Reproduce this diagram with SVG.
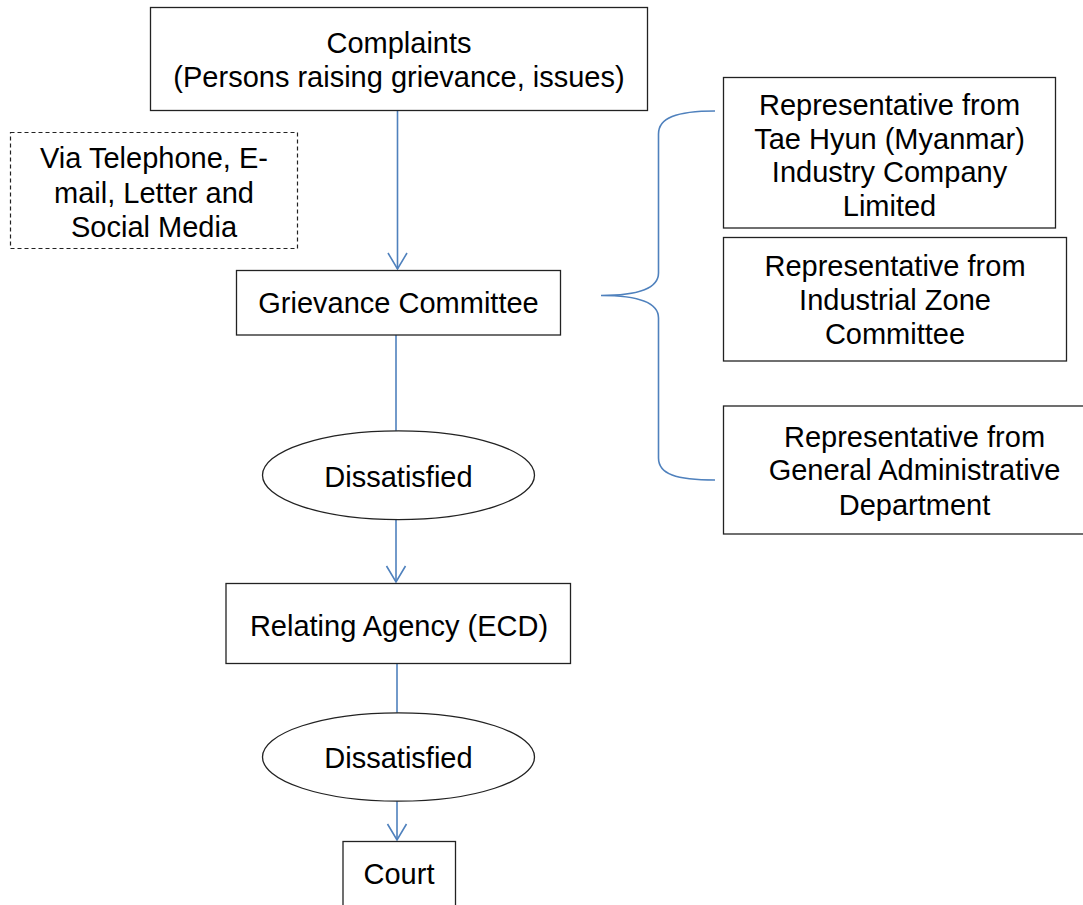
<svg xmlns="http://www.w3.org/2000/svg" width="1083" height="905" viewBox="0 0 1083 905">
<defs>
<style>
.box{fill:#fff;stroke:#222;stroke-width:1.3}
.dash{fill:#fff;stroke:#222;stroke-width:1.2;stroke-dasharray:4,3}
.t{font-family:"Liberation Sans",Arial,sans-serif;font-size:29px;fill:#000;text-anchor:middle}
.c{fill:none;stroke:#4F81BD;stroke-width:1.6}
</style>
<marker id="arr" markerWidth="24" markerHeight="24" viewBox="-20 -12 24 24" refX="0" refY="0" orient="auto" markerUnits="userSpaceOnUse">
<path d="M-16,-9.5 L0,0 L-16,9.5" fill="none" stroke="#4F81BD" stroke-width="1.6"/>
</marker>
</defs>
<rect width="1083" height="905" fill="#fff"/>
<g id="connectors">
<line class="c" x1="397.5" y1="110" x2="397.5" y2="269" marker-end="url(#arr)"/>
<line class="c" x1="396" y1="335" x2="396" y2="431"/>
<line class="c" x1="396" y1="520" x2="396" y2="582" marker-end="url(#arr)"/>
<line class="c" x1="397" y1="663" x2="397" y2="713"/>
<line class="c" x1="397" y1="801" x2="397" y2="840" marker-end="url(#arr)"/>
<path class="c" d="M715,111 C676,111 658.5,118 658.5,134 L658.5,273 C658.5,289 638,295.5 601,295.5 C638,295.5 658.5,302 658.5,318 L658.5,458 C658.5,474 676,480 715,480"/>
</g>
<g id="complaints">
<rect class="box" x="150.5" y="7.5" width="497" height="103"/>
<text class="t" x="399" y="53">Complaints</text>
<text class="t" x="399" y="87">(Persons raising grievance, issues)</text>
</g>
<g id="channels">
<rect class="dash" x="10.5" y="132.5" width="287" height="116"/>
<text class="t" x="154" y="168">Via Telephone, E-</text>
<text class="t" x="154" y="203">mail, Letter and</text>
<text class="t" x="154" y="237">Social Media</text>
</g>
<g id="grievance">
<rect class="box" x="236.5" y="270.5" width="324" height="64.5"/>
<text class="t" x="398.5" y="313">Grievance Committee</text>
</g>
<g id="rep1">
<rect class="box" x="723.5" y="77.5" width="332" height="150.5"/>
<text class="t" x="889.5" y="115">Representative from</text>
<text class="t" x="889.5" y="149">Tae Hyun (Myanmar)</text>
<text class="t" x="889.5" y="182">Industry Company</text>
<text class="t" x="889.5" y="216">Limited</text>
</g>
<g id="rep2">
<rect class="box" x="723.5" y="237.5" width="343" height="123.5"/>
<text class="t" x="895" y="276">Representative from</text>
<text class="t" x="895" y="309.5">Industrial Zone</text>
<text class="t" x="895" y="344">Committee</text>
</g>
<g id="rep3">
<rect class="box" x="723.5" y="406" width="382" height="128"/>
<text class="t" x="914.5" y="447">Representative from</text>
<text class="t" x="914.5" y="480">General Administrative</text>
<text class="t" x="914.5" y="514.5">Department</text>
</g>
<g id="dissatisfied1">
<ellipse class="box" cx="398.5" cy="475.2" rx="136" ry="44.4"/>
<text class="t" x="398.5" y="487">Dissatisfied</text>
</g>
<g id="agency">
<rect class="box" x="226" y="583.5" width="344.5" height="80"/>
<text class="t" x="399" y="635.5">Relating Agency (ECD)</text>
</g>
<g id="dissatisfied2">
<ellipse class="box" cx="398.5" cy="757" rx="136" ry="44.2"/>
<text class="t" x="398.5" y="768">Dissatisfied</text>
</g>
<g id="court">
<rect class="box" x="343" y="841.5" width="112.5" height="80"/>
<text class="t" x="399" y="884">Court</text>
</g>
</svg>
